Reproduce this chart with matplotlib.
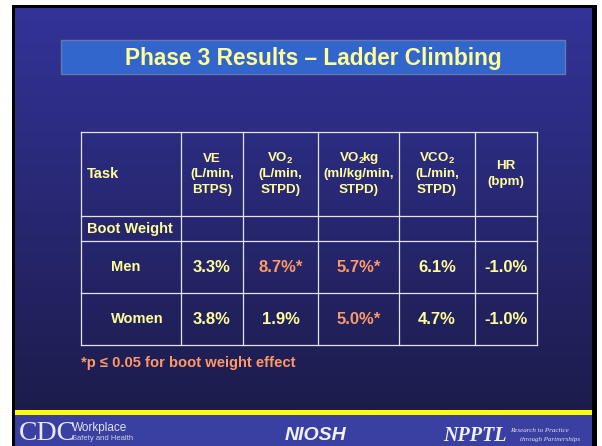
import numpy as np
import matplotlib.pyplot as plt
from matplotlib.patches import Rectangle

plt.rcParams['font.family'] = ['Liberation Sans', 'DejaVu Sans']
plt.rcParams['mathtext.fontset'] = 'custom'
plt.rcParams['mathtext.rm'] = 'Liberation Sans:bold'
plt.rcParams['mathtext.it'] = 'Liberation Sans:bold'
plt.rcParams['mathtext.bf'] = 'Liberation Sans:bold'

# Table content
title = 'Phase 3 Results \u2013 Ladder Climbing'
header_lines = [
    ['Task'],
    ['VE', '(L/min,', 'BTPS)'],
    ['VO$_2$', '(L/min,', 'STPD)'],
    [r'$\mathrm{VO_2\!kg}$', '(ml/kg/min,', 'STPD)'],
    ['VCO$_2$', '(L/min,', 'STPD)'],
    ['HR', '(bpm)'],
]
group_label = 'Boot Weight'
row_labels = ['Men', 'Women']
values = [
    [3.3, 8.7, 5.7, 6.1, -1.0],
    [3.8, 1.9, 5.0, 4.7, -1.0],
]
significant = [
    [False, True, True, False, False],
    [False, False, True, False, False],
]
footnote = '*p \u2264 0.05 for boot weight effect'

# Layout (pixels)
W, H = 602, 446
col_edges = [81, 181, 243, 318, 399, 475, 537]
row_edges = [132, 216, 241, 293, 345]
yellow = '#FFFF99'
orange = '#FF9966'
line_col = '#E4E4EE'

fig = plt.figure(figsize=(W / 100, H / 100), dpi=100)
ax = fig.add_axes([0, 0, 1, 1])
ax.set_xlim(0, W)
ax.set_ylim(H, 0)
ax.axis('off')
fig.patch.set_facecolor('white')

# black frame and gradient background
ax.add_patch(Rectangle((12, 5), 585, 441, facecolor='black', edgecolor='none', zorder=0))
top = np.array([51, 51, 153]) / 255
bot = np.array([28, 28, 76]) / 255
t = np.linspace(0, 1, 256)[:, None]
grad = (top[None, :] * (1 - t) + bot[None, :] * t)[:, None, :]
ax.imshow(grad, extent=(15, 592, 410, 8), aspect='auto', zorder=1, interpolation='bilinear')
ax.set_xlim(0, W)
ax.set_ylim(H, 0)

# footer
ax.add_patch(Rectangle((15, 410), 577, 5, facecolor='#FFFF00', edgecolor='none', zorder=2))
ax.add_patch(Rectangle((15, 415), 577, 31, facecolor='#3A40A2', edgecolor='none', zorder=2))
ax.text(19, 433, 'CDC', fontsize=20, family='Liberation Serif', color='#E8E8F4',
        va='center', ha='left', zorder=3)
ax.text(72, 428, 'Workplace', fontsize=8.5, color='#E0E0EE', va='center', ha='left', zorder=3)
ax.text(72, 438, 'Safety and Health', fontsize=5.5, color='#D0D0E4', va='center', ha='left', zorder=3)
ax.text(316, 436, 'NIOSH', fontsize=14, fontweight='bold', style='italic', color='#F0F0FA',
        va='center', ha='center', zorder=3)
ax.text(443, 436, 'NPPTL', fontsize=14.5, fontweight='bold', style='italic',
        family='Liberation Serif', color='#F0F0FA', va='center', ha='left', zorder=3)
ax.text(510, 431, 'Research to Practice', fontsize=5, style='italic', family='Liberation Serif',
        color='#E0E0EE', va='center', ha='left', zorder=3)
ax.text(520, 439, 'through Partnerships', fontsize=5, style='italic', family='Liberation Serif',
        color='#E0E0EE', va='center', ha='left', zorder=3)

# title box
ax.add_patch(Rectangle((61, 40), 504, 34, facecolor='#3366CC', edgecolor='#6677AA',
                       linewidth=1, zorder=3))
ax.text(313, 58, title, fontsize=16.3, fontweight='bold', color=yellow,
        ha='center', va='center', zorder=4)

# table grid
for x in col_edges:
    ax.plot([x, x], [row_edges[0], row_edges[-1]], color=line_col, lw=0.9, zorder=4)
for y in row_edges:
    ax.plot([col_edges[0], col_edges[-1]], [y, y], color=line_col, lw=0.9, zorder=4)

fs = 10.5
# header
hy = (row_edges[0] + row_edges[1]) / 2
for j, lines in enumerate(header_lines):
    n = len(lines)
    for k, txt in enumerate(lines):
        y = hy + (k - (n - 1) / 2) * 15.5
        if j == 0:
            ax.text(col_edges[0] + 6, y, txt, fontsize=fs, fontweight='bold', color=yellow,
                    ha='left', va='center', zorder=5)
        else:
            cx = (col_edges[j] + col_edges[j + 1]) / 2
            ax.text(cx, y, txt, fontsize=9.6, fontweight='bold', color=yellow,
                    ha='center', va='center', zorder=5)

ax.text(col_edges[0] + 6, (row_edges[1] + row_edges[2]) / 2, group_label, fontsize=fs,
        fontweight='bold', color=yellow, ha='left', va='center', zorder=5)

for i, lab in enumerate(row_labels):
    cy = (row_edges[i + 2] + row_edges[i + 3]) / 2
    ax.text(111, cy, lab, fontsize=fs, fontweight='bold', color=yellow,
            ha='left', va='center', zorder=5)
    for j, v in enumerate(values[i]):
        cx = (col_edges[j + 1] + col_edges[j + 2]) / 2
        s = f'{v:.1f}%' + ('*' if significant[i][j] else '')
        ax.text(cx, cy, s, fontsize=12, fontweight='bold',
                color=orange if significant[i][j] else yellow,
                ha='center', va='center', zorder=5)

ax.text(81, 363, footnote, fontsize=10.6, fontweight='bold', color=orange,
        ha='left', va='center', zorder=5)

fig.savefig('out.png', dpi=100)
